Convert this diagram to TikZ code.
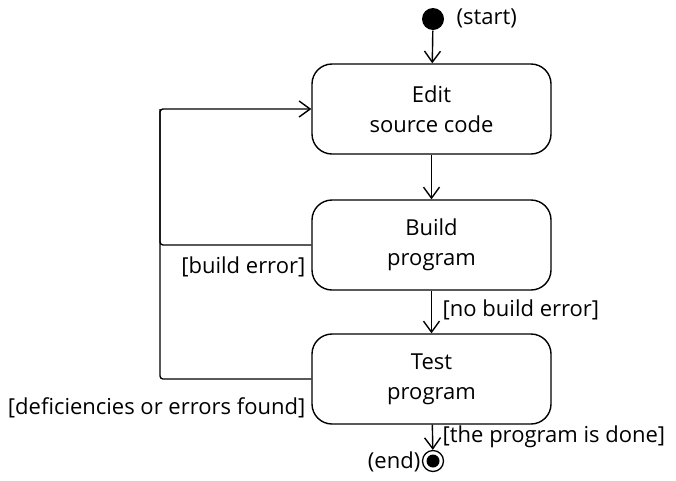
\documentclass[tikz,border=0pt]{standalone}
\usepackage{fontspec}
\setmainfont{Open Sans}
\usetikzlibrary{arrows.meta}
\begin{document}
\begin{tikzpicture}[x=1pt,y=-1pt,
  line width=1.4pt,
  >={Straight Barb[length=11pt,width=16pt,line width=1.4pt]},
  activity/.style={draw,rounded corners=20pt,minimum width=239pt,minimum height=90pt,align=center,font=\fontsize{22}{30}\selectfont},
  lbl/.style={font=\fontsize{22}{24}\selectfont,inner sep=0pt}]
\useasboundingbox (0,0) rectangle (676,480);
\node[activity] (edit) at (431.5,109) {Edit\\source code};
\node[activity] (build) at (431.5,245) {Build\\program};
\node[activity] (test) at (431.5,379) {Test\\program};
\node[circle,fill,inner sep=0pt,minimum size=22pt] (start) at (433,19) {};
\node[circle,draw,line width=1.3pt,inner sep=0pt,minimum size=21pt] (endo) at (433,461) {};
\node[circle,fill,inner sep=0pt,minimum size=13pt] (endi) at (433,461) {};
\node[lbl,anchor=west] (startl) at (456,18) {(start)};
\node[lbl,anchor=east] (endl) at (421,462) {(end)};
\coordinate (lc) at (160,109);
\draw[->] (start) -- (edit);
\draw[->] (edit) -- (build);
\draw[->] (build) -- (test);
\draw[->] (test) -- (endo);
\draw[rounded corners=3pt] (build.west) -| (lc);
\draw[->,rounded corners=3pt] (test.west) -| (lc) -- (edit.west);
\node[lbl,anchor=east] (be) at (306,267) {[build error]};
\node[lbl,anchor=west] (nbe) at (442,310) {[no build error]};
\node[lbl,anchor=east] (def) at (306,408) {[deficiencies or errors found]};
\node[lbl,anchor=west] (done) at (442,437) {[the program is done]};
\end{tikzpicture}
\end{document}
